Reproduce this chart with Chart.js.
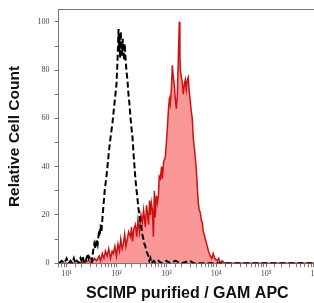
<!DOCTYPE html>
<html>
<head>
<meta charset="utf-8">
<script src="https://cdn.jsdelivr.net/npm/chart.js@4/dist/chart.umd.min.js"></script>
<style>
  html, body { margin: 0; padding: 0; background: #fff; overflow: hidden; }
  #wrap { position: relative; width: 316px; height: 303px; }
</style>
</head>
<body>
<div id="wrap"><canvas id="chart"></canvas></div>
<script>
// control (dashed black) histogram
const controlX = [7, 8, 9, 10, 11, 12, 13, 14, 15, 16, 18, 19, 20, 21, 22, 24, 25, 27, 28, 30,
  32, 34, 36, 38, 40, 42, 44, 46, 48, 50, 52, 55, 58, 63, 66, 69, 72, 76, 83, 91,
  100, 105, 110, 113, 115, 118, 122, 126, 130, 134, 138, 142, 146, 151, 158, 166, 174, 182, 190, 200,
  210, 219, 230, 240, 250, 263, 275, 288, 300, 316, 330, 347, 363, 380, 398, 417, 437, 458, 479, 500,
  560, 600, 700, 800, 1000, 1200, 1500, 2000, 3000, 3500, 1000000];
const controlY = [0, 1, 0, 2, 0, 1, 0, 2, 0, 1, 0, 2, 1, 3, 1, 0, 2, 4, 2, 3,
  1, 5, 8, 6, 10, 8, 12, 11, 16, 13, 18, 24, 30, 36, 40, 44, 48, 52, 58, 66,
  74, 84, 97, 88, 94, 85, 96, 90, 86, 93, 88, 84, 91, 86, 80, 76, 70, 66, 61, 56,
  52, 46, 40, 35, 31, 27, 23, 20, 17, 15, 12, 10, 8, 7, 5, 4, 3, 1, 2, 0,
  1, 0, 1, 0, 1, 0, 1, 0, 1, 0, 0];

// SCIMP stained (red filled) histogram
const stainedX = [7, 20, 28, 32, 36, 40, 45, 48, 52, 56, 60, 65, 70, 76, 82, 87, 93, 100, 107, 115,
  122, 130, 138, 146, 155, 165, 175, 191, 200, 210, 222, 240, 255, 270, 290, 310, 331, 350, 380, 400,
  417, 440, 460, 479, 500, 525, 550, 575, 600, 630, 661, 692, 720, 759, 800, 832, 880, 955, 1000, 1050,
  1096, 1150, 1200, 1259, 1318, 1380, 1445, 1510, 1585, 1660, 1740, 1820, 1870, 1905, 2000, 2089, 2188, 2290, 2399, 2510,
  2630, 2754, 2880, 3020, 3160, 3311, 3467, 3630, 3800, 3980, 4169, 4365, 4570, 4790, 5010, 5248, 5495, 5750, 6030, 6607,
  7000, 7586, 8128, 8710, 9333, 10470, 11220, 12000, 13180, 15000, 1000000];
const stainedY = [0, 0, 1, 0, 2, 1, 3, 1, 4, 2, 5, 3, 6, 2, 5, 4, 7, 3, 8, 5,
  10, 6, 8, 12, 7, 10, 13, 11, 15, 9, 14, 16, 11, 18, 13, 20, 17, 22, 15, 24,
  21, 16, 26, 20, 25, 22, 11, 30, 19, 28, 25, 28, 36, 35, 40, 35, 42, 44, 50, 56,
  63, 68, 66, 72, 82, 77, 74, 68, 64, 70, 85, 100, 88, 80, 77, 75, 70, 74, 76, 72,
  76, 77, 71, 67, 63, 60, 52, 48, 44, 39, 32, 25, 22, 21, 18, 17, 13, 12, 10, 7,
  5, 3, 2, 4, 2, 1, 2, 0, 1, 0, 0];

const xTickValues = [10, 100, 1000, 10000, 100000, 1000000];
const xTickLabels = ['10\u00B9', '10\u00B2', '10\u00B3', '10\u2074', '10\u2075', '10\u2076'];
const yTickLabels = [0, 20, 40, 60, 80, 100];

const pts = (xs, ys) => xs.map((x, i) => ({ x, y: ys[i] }));

const tickFont = { family: '"Liberation Serif", "DejaVu Serif", serif', size: 8 };
const titleFont = { family: '"Liberation Sans", Arial, sans-serif', weight: 'bold' };

new Chart(document.getElementById('chart'), {
  type: 'line',
  data: {
    datasets: [
      {
        label: 'control',
        data: pts(controlX, controlY),
        borderColor: '#000',
        borderWidth: 2,
        borderDash: [6, 3],
        fill: false,
        pointRadius: 0,
        tension: 0
      },
      {
        label: 'SCIMP',
        data: pts(stainedX, stainedY),
        borderColor: '#cc1111',
        backgroundColor: 'rgba(250, 140, 140, 0.9)',
        borderWidth: 1.5,
        fill: 'origin',
        pointRadius: 0,
        tension: 0
      }
    ]
  },
  options: {
    responsive: true,
    maintainAspectRatio: false,
    animation: false,
    layout: { padding: { left: 3, top: 4, right: 0, bottom: 0 } },
    plugins: { legend: { display: false }, tooltip: { enabled: false } },
    scales: {
      x: {
        type: 'logarithmic',
        min: 6.92,
        max: 1000000,
        border: { color: '#777', width: 1 },
        grid: { drawOnChartArea: false, tickLength: 4, tickColor: '#777' },
        ticks: {
          autoSkip: false,
          maxRotation: 0,
          padding: 2,
          color: '#444',
          font: tickFont,
          callback: (v) => {
            const i = xTickValues.findIndex(t => Math.abs(t - v) < t * 1e-6);
            return i >= 0 ? xTickLabels[i] : '';
          }
        },
        title: {
          display: true,
          text: 'SCIMP purified / GAM APC',
          color: '#111',
          font: { ...titleFont, size: 16 },
          padding: { top: 3, bottom: 0 }
        },
        afterFit: (s) => { s.paddingRight = 0; s.paddingLeft = 0; }
      },
      xTop: {
        type: 'linear',
        position: 'top',
        min: 0, max: 1,
        border: { color: '#777', width: 1 },
        grid: { display: false, drawTicks: false },
        ticks: { display: false }
      },
      y: {
        min: 0,
        max: 105,
        border: { color: '#777', width: 1 },
        grid: { drawOnChartArea: false, tickLength: 4, tickColor: '#777' },
        ticks: {
          stepSize: 5,
          padding: 5,
          color: '#444',
          font: tickFont,
          callback: (v) => yTickLabels.includes(v) ? String(v) : ''
        },
        title: {
          display: true,
          text: 'Relative Cell Count',
          color: '#111',
          font: { ...titleFont, size: 15.5 },
          padding: { top: 2, bottom: 9 }
        }
      }
    }
  }
});
</script>
</body>
</html>
